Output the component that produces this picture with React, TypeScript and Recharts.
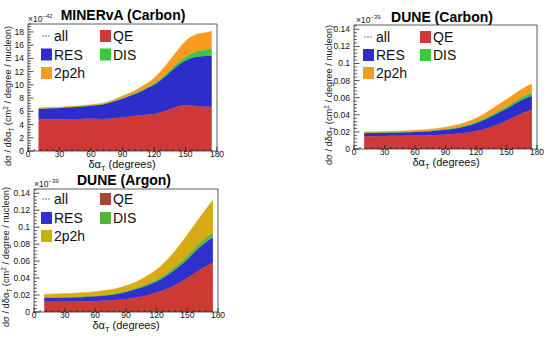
import React from 'react';
import { AreaChart, Area, XAxis, YAxis, ReferenceArea } from 'recharts';

// angle bins (degrees)
const ANGLES = [10, 20, 30, 40, 50, 60, 70, 80, 90, 100, 110, 120, 130, 140, 150, 160, 170, 175];

// MINERvA carbon, x1e-42
const MINERVA_QE = [4.8, 4.8, 4.8, 4.85, 4.85, 4.9, 4.85, 4.9, 5.1, 5.3, 5.45, 5.6, 6.0, 6.6, 6.9, 6.8, 6.7, 6.7];
const MINERVA_RES = [1.6, 1.65, 1.7, 1.75, 1.85, 1.95, 2.15, 2.5, 2.8, 3.2, 3.75, 4.4, 5.2, 6.0, 6.8, 7.4, 7.65, 7.7];
const MINERVA_DIS = [0.03, 0.03, 0.04, 0.05, 0.05, 0.06, 0.07, 0.08, 0.1, 0.12, 0.15, 0.2, 0.25, 0.35, 0.5, 0.8, 1.0, 1.1];
const MINERVA_2P2H = [0.07, 0.08, 0.08, 0.1, 0.1, 0.1, 0.13, 0.17, 0.3, 0.38, 0.55, 0.8, 1.25, 1.75, 2.4, 2.6, 2.55, 2.6];

// DUNE carbon, x1e-39
const DUNE_C_QE = [0.015, 0.015, 0.0152, 0.0154, 0.0156, 0.0158, 0.016, 0.0165, 0.017, 0.0178, 0.019, 0.021, 0.024, 0.028, 0.033, 0.039, 0.044, 0.046];
const DUNE_C_RES = [0.0035, 0.0037, 0.0038, 0.0038, 0.0039, 0.0042, 0.0045, 0.0048, 0.0055, 0.0062, 0.0075, 0.009, 0.011, 0.013, 0.014, 0.015, 0.016, 0.016];
const DUNE_C_DIS = [0.0005, 0.0005, 0.0005, 0.0005, 0.0005, 0.0006, 0.0006, 0.0007, 0.0008, 0.001, 0.0012, 0.0015, 0.0018, 0.0022, 0.0026, 0.003, 0.0035, 0.0037];
const DUNE_C_2P2H = [0.001, 0.001, 0.001, 0.0011, 0.0012, 0.0013, 0.0015, 0.0018, 0.0022, 0.0028, 0.0036, 0.0045, 0.0057, 0.007, 0.0084, 0.009, 0.0098, 0.0103];

// DUNE argon, x1e-39
const DUNE_AR_QE = [0.012, 0.012, 0.0122, 0.0124, 0.0126, 0.013, 0.0135, 0.014, 0.0152, 0.017, 0.0195, 0.023, 0.027, 0.033, 0.04, 0.048, 0.055, 0.058];
const DUNE_AR_RES = [0.0045, 0.0047, 0.0048, 0.0049, 0.0052, 0.0055, 0.006, 0.007, 0.0083, 0.01, 0.0115, 0.013, 0.016, 0.019, 0.022, 0.026, 0.029, 0.03];
const DUNE_AR_DIS = [0.0005, 0.0005, 0.0006, 0.0006, 0.0007, 0.0008, 0.0009, 0.001, 0.0012, 0.0015, 0.0019, 0.0024, 0.003, 0.0037, 0.0044, 0.005, 0.0055, 0.0057];
const DUNE_AR_2P2H = [0.004, 0.0041, 0.0041, 0.0043, 0.0045, 0.0047, 0.0051, 0.0055, 0.0063, 0.007, 0.0091, 0.0116, 0.015, 0.0193, 0.0246, 0.029, 0.0345, 0.0383];

const X_TICKS = [0, 30, 60, 90, 120, 150, 180];
const MINERVA_Y_TICKS = [0, 2, 4, 6, 8, 10, 12, 14, 16, 18];
const DUNE_Y_TICKS = [0, 0.02, 0.04, 0.06, 0.08, 0.1, 0.12, 0.14];

const FONT = '"Liberation Sans", Arial, Helvetica, sans-serif';

const makeRows = (qe: number[], res: number[], dis: number[], mec: number[]) =>
  ANGLES.map((angle, i) => ({ angle, qe: qe[i], res: res[i], dis: dis[i], mec: mec[i] }));

// ROOT style: 5 subdivisions per major step
const withMinor = (majors: number[], max: number) => {
  const step = (majors[1] - majors[0]) / 5;
  const out: number[] = [];
  for (let i = 0; i * step <= max + 1e-9; i++) out.push(Number((i * step).toFixed(6)));
  return out;
};

const isMajor = (v: number, majors: number[]) => majors.some((m) => Math.abs(m - v) < 1e-9);

const xTick = (majors: number[]) => (props: any) => {
  const { x, y, payload } = props;
  const major = isMajor(payload.value, majors);
  return (
    <g>
      <line x1={x} x2={x} y1={y} y2={y - (major ? 4 : 2)} stroke="#222" strokeWidth={0.8} />
      {major && (
        <text x={x} y={y + 6.4} textAnchor="middle" fontSize={8.5} fontFamily={FONT} fill="#111">
          {payload.value}
        </text>
      )}
    </g>
  );
};

const yTick = (majors: number[]) => (props: any) => {
  const { x, y, payload } = props;
  const major = isMajor(payload.value, majors);
  return (
    <g>
      <line x1={x} x2={x + (major ? 5.5 : 2.8)} y1={y} y2={y} stroke="#222" strokeWidth={0.8} />
      {major && (
        <text x={x - 4} y={y + 3} textAnchor="end" fontSize={8.5} fontFamily={FONT} fill="#111">
          {String(Number(payload.value.toFixed(4)))}
        </text>
      )}
    </g>
  );
};

type Colors = { qe: string; res: string; dis: string; mec: string };

type PanelProps = {
  left: number;
  top: number;
  frame: { l: number; r: number; t: number; b: number };
  rows: any[];
  yTicks: number[];
  yMax: number;
  fills: Colors;
  swatches: Colors;
  title: string;
  titleX: number;
  titleY: number;
  exponent: string;
  expX: number;
  expY: number;
  xLabelX: number;
  yLabelX: number;
  yLabelY: number;
  legX: number[];
  legY: number[];
};

const W = 275;
const H = 170;

const Panel = (p: PanelProps) => {
  const { frame } = p;
  const margin = { top: frame.t, right: W - frame.r, bottom: H - frame.b - 1, left: frame.l - 1 };
  const swatch = (cx: number, cy: number, color: string, label: string) => (
    <g>
      <rect x={cx} y={cy - 6} width={11} height={12} fill={color} />
      <text x={cx + 13} y={cy + 5} fontSize={14} fontFamily={FONT} fill="#111">{label}</text>
    </g>
  );
  return (
    <div style={{ position: 'absolute', left: p.left, top: p.top, width: W, height: H }}>
      <AreaChart width={W} height={H} data={p.rows} margin={margin}>
        <XAxis
          type="number"
          dataKey="angle"
          domain={[0, 180]}
          ticks={withMinor(X_TICKS, 180)}
          interval={0}
          height={1}
          tickSize={0}
          tickMargin={0}
          axisLine={false}
          tickLine={false}
          tick={xTick(X_TICKS)}
          allowDataOverflow
        />
        <YAxis
          type="number"
          domain={[0, p.yMax]}
          ticks={withMinor(p.yTicks, p.yMax)}
          interval={0}
          width={1}
          tickSize={0}
          tickMargin={0}
          axisLine={false}
          tickLine={false}
          tick={yTick(p.yTicks)}
          allowDataOverflow
        />
        <Area type="monotone" dataKey="qe" stackId="s" fill={p.fills.qe} stroke={p.fills.qe} strokeWidth={0.5} fillOpacity={1} isAnimationActive={false} />
        <Area type="monotone" dataKey="res" stackId="s" fill={p.fills.res} stroke={p.fills.res} strokeWidth={0.5} fillOpacity={1} isAnimationActive={false} />
        <Area type="monotone" dataKey="dis" stackId="s" fill={p.fills.dis} stroke={p.fills.dis} strokeWidth={0.5} fillOpacity={1} isAnimationActive={false} />
        <Area type="monotone" dataKey="mec" stackId="s" fill={p.fills.mec} stroke={p.fills.mec} strokeWidth={0.5} fillOpacity={1} isAnimationActive={false} />
        <ReferenceArea x1={0} x2={180} y1={0} y2={p.yMax} fill="none" stroke="#333" strokeWidth={0.8} fillOpacity={0} />
      </AreaChart>
      <svg width={W} height={H} style={{ position: 'absolute', left: 0, top: 0, pointerEvents: 'none', overflow: 'visible' }}>
        <text x={p.titleX} y={p.titleY} textAnchor="middle" fontSize={14} fontWeight="bold" fontFamily={FONT} fill="#000">
          {p.title}
        </text>
        <text x={p.expX} y={p.expY} fontSize={8.5} fontFamily={FONT} fill="#222">
          ×10<tspan dy={-4} fontSize={6}>{p.exponent}</tspan>
        </text>
        <text x={p.xLabelX} y={frame.b + 17} textAnchor="middle" fontSize={11} fontFamily={FONT} fill="#111">
          δα<tspan dy={2.5} fontSize={7.5}>T</tspan>
          <tspan dy={-2.5}> (degrees)</tspan>
        </text>
        <text
          x={p.yLabelX}
          y={p.yLabelY}
          transform={`rotate(-90 ${p.yLabelX} ${p.yLabelY})`}
          textAnchor="middle"
          fontSize={9.3}
          fontFamily={FONT}
          fill="#111"
        >
          dσ / dδα<tspan dy={2.5} fontSize={6.5}>T</tspan>
          <tspan dy={-2.5}> (cm</tspan>
          <tspan dy={-3.5} fontSize={6.5}>2</tspan>
          <tspan dy={3.5}> / degree / nucleon)</tspan>
        </text>
        <line x1={p.legX[0] + 1} x2={p.legX[0] + 10} y1={p.legY[0]} y2={p.legY[0]} stroke="#6a6ad8" strokeWidth={1} strokeDasharray="2 1" />
        <text x={p.legX[0] + 13} y={p.legY[0] + 5} fontSize={14} fontFamily={FONT} fill="#111">all</text>
        {swatch(p.legX[1], p.legY[0], p.swatches.qe, 'QE')}
        {swatch(p.legX[0], p.legY[1], p.swatches.res, 'RES')}
        {swatch(p.legX[1], p.legY[1], p.swatches.dis, 'DIS')}
        {swatch(p.legX[0], p.legY[2], p.swatches.mec, '2p2h')}
      </svg>
    </div>
  );
};

const CARBON_COLORS: Colors = { qe: '#d03838', res: '#2d2dcc', dis: '#3cc83c', mec: '#f99b1e' };
const ARGON_FILLS: Colors = { qe: '#cc3a33', res: '#3030cc', dis: '#58b840', mec: '#d8aa14' };
const ARGON_SWATCHES: Colors = { qe: '#a04a32', res: '#3030cc', dis: '#55b040', mec: '#c4b400' };

export default function App() {
  return (
    <div style={{ position: 'absolute', left: 0, top: 0, width: 550, height: 340, background: '#fff', overflow: 'hidden' }}>
      <Panel
        left={0}
        top={0}
        frame={{ l: 28, r: 217, t: 24, b: 151 }}
        rows={makeRows(MINERVA_QE, MINERVA_RES, MINERVA_DIS, MINERVA_2P2H)}
        yTicks={MINERVA_Y_TICKS}
        yMax={19.2}
        fills={CARBON_COLORS}
        swatches={CARBON_COLORS}
        title="MINERvA (Carbon)"
        titleX={123}
        titleY={20}
        exponent="−42"
        expX={28}
        expY={22}
        xLabelX={122}
        yLabelX={11}
        yLabelY={96}
        legX={[41, 100]}
        legY={[36, 54.5, 73]}
      />
      <Panel
        left={275}
        top={0}
        frame={{ l: 79, r: 262, t: 25, b: 149 }}
        rows={makeRows(DUNE_C_QE, DUNE_C_RES, DUNE_C_DIS, DUNE_C_2P2H)}
        yTicks={DUNE_Y_TICKS}
        yMax={0.145}
        fills={CARBON_COLORS}
        swatches={CARBON_COLORS}
        title="DUNE (Carbon)"
        titleX={167}
        titleY={22}
        exponent="−39"
        expX={81}
        expY={23}
        xLabelX={171}
        yLabelX={57}
        yLabelY={95}
        legX={[88, 145]}
        legY={[37, 55, 73]}
      />
      <Panel
        left={0}
        top={165}
        frame={{ l: 34, r: 218, t: 24, b: 147 }}
        rows={makeRows(DUNE_AR_QE, DUNE_AR_RES, DUNE_AR_DIS, DUNE_AR_2P2H)}
        yTicks={DUNE_Y_TICKS}
        yMax={0.145}
        fills={ARGON_FILLS}
        swatches={ARGON_SWATCHES}
        title="DUNE (Argon)"
        titleX={124}
        titleY={19.5}
        exponent="−39"
        expX={34}
        expY={22}
        xLabelX={126}
        yLabelX={9}
        yLabelY={92}
        legX={[41, 100]}
        legY={[34, 53, 71]}
      />
    </div>
  );
}
